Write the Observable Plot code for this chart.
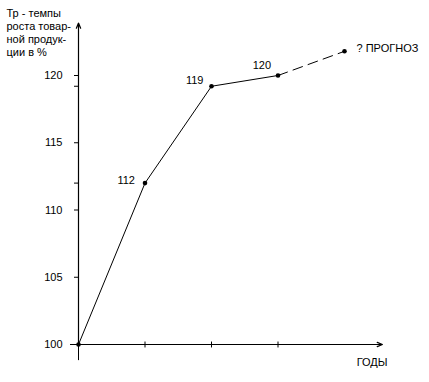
<!DOCTYPE html>
<html><head><meta charset="utf-8">
<script src="https://cdn.jsdelivr.net/npm/d3@7"></script>
<script src="https://cdn.jsdelivr.net/npm/@observablehq/plot@0.6"></script>
<style>body{margin:0;background:#fff}</style>
</head><body><div id="chart"></div>
<script>
const years = [0, 1, 2, 3];
const values = [100, 112, 119.2, 120];
const pointLabels = ["", "112", "119", "120"];
const forecastYear = 4;
const forecastValue = 121.8;
const forecastLabel = "? ПРОГНОЗ";
const yTicks = [100, 105, 110, 112, 115, 119.2, 120];
const yTickLabels = [100, 105, 110, 115, 120];
const xTicks = [1, 2, 3];
const yTitle = "Тр - темпы\nроста товар-\nной продук-\nции в %";
const xTitle = "ГОДЫ";

const actual = years.map((x, i) => ({x, y: values[i], label: pointLabels[i]}));
const forecast = [actual[actual.length - 1], {x: forecastYear, y: forecastValue, label: forecastLabel}];
const xAxisEnd = 4.57, yAxisEnd = 123.9, xAxisStart = -0.12, yAxisStart = 98.8;
const font = "Liberation Sans, Arial, sans-serif";

const chart = Plot.plot({
  width: 429, height: 382,
  marginLeft: 78, marginRight: 85, marginTop: 75, marginBottom: 38,
  x: {domain: [0, 4], axis: null},
  y: {domain: [100, 120], axis: null},
  style: {fontFamily: font, fontSize: "11px", background: "#fff", color: "#000"},
  marks: [
    Plot.axisY({ticks: yTicks, tickSize: 4, tickPadding: 12, label: null, tickFormat: d => yTickLabels.includes(d) ? String(d) : "", fontSize: 11}),
    Plot.link(xTicks, {x1: d => d, x2: d => d, y1: 99.78, y2: 100.22, stroke: "#000"}),
    Plot.ruleY([100], {x1: xAxisStart, x2: 0, stroke: "#000"}),
    Plot.ruleX([0], {y1: yAxisStart, y2: 100, stroke: "#000"}),
    Plot.arrow([{x1: 0, y1: 100, x2: 0, y2: yAxisEnd}], {x1: "x1", y1: "y1", x2: "x2", y2: "y2", stroke: "#000", strokeWidth: 1.2, headLength: 7, headAngle: 45}),
    Plot.arrow([{x1: 0, y1: 100, x2: xAxisEnd, y2: 100}], {x1: "x1", y1: "y1", x2: "x2", y2: "y2", stroke: "#000", strokeWidth: 1.2, headLength: 7, headAngle: 45}),
    Plot.line(actual, {x: "x", y: "y", stroke: "#000", strokeWidth: 1}),
    Plot.line(forecast, {x: "x", y: "y", stroke: "#000", strokeWidth: 1, strokeDasharray: "10,6"}),
    Plot.dot([...actual, forecast[1]], {x: "x", y: "y", r: 2.3, fill: "#000", stroke: null}),
    Plot.text([actual[1]], {x: "x", y: "y", text: "label", textAnchor: "end", dx: -10, dy: -3}),
    Plot.text([actual[2]], {x: "x", y: "y", text: "label", textAnchor: "end", dx: -8, dy: -6}),
    Plot.text([actual[3]], {x: "x", y: "y", text: "label", textAnchor: "end", dx: -7, dy: -10}),
    Plot.text([forecast[1]], {x: "x", y: "y", text: "label", textAnchor: "start", dx: 12, dy: -3}),
    Plot.text([yTitle], {frameAnchor: "top-left", textAnchor: "start", lineAnchor: "top", dx: -72, dy: -68, lineHeight: 1.2}),
    Plot.text([xTitle], {frameAnchor: "bottom-right", textAnchor: "end", lineAnchor: "middle", dx: 43, dy: 18})
  ]
});
document.getElementById("chart").appendChild(chart);
</script></body></html>
